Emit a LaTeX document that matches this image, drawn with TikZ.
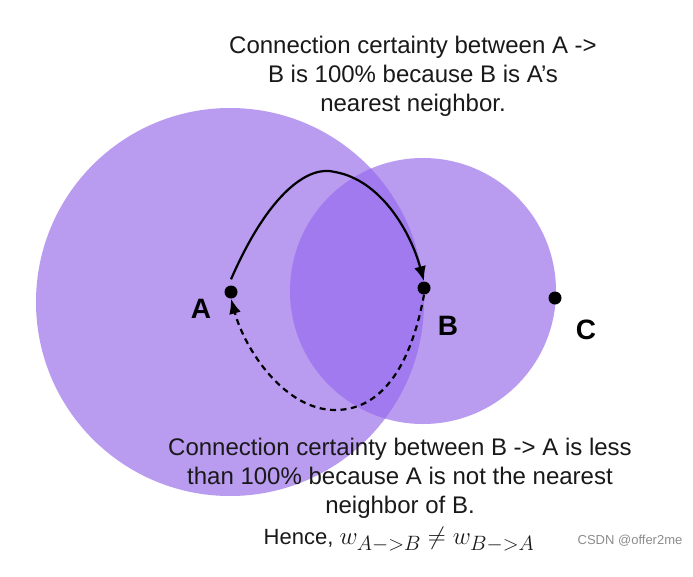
\documentclass[tikz,border=0pt]{standalone}
\usepackage{fontspec}
\setmainfont{Liberation Sans}
\usetikzlibrary{arrows.meta}
\definecolor{lightp}{RGB}{185,155,240}
\definecolor{darkp}{RGB}{160,122,238}
\definecolor{wm}{RGB}{140,140,140}
\tikzset{
  dot/.style={circle,fill=black,inner sep=0pt,minimum size=13pt},
  ptlabel/.style={font=\fontsize{28}{30}\selectfont\bfseries},
  caption/.style={align=center,font=\fontsize{24}{29}\selectfont,text=black!90},
  arr/.style={line width=2.2pt,-{Latex[length=15pt,width=12pt]}},
}
\begin{document}
\begin{tikzpicture}[x=1pt,y=-1pt]
\useasboundingbox (0,0) rectangle (693,576);
\fill[white] (0,0) rectangle (693,576);
% circles
\fill[lightp] (230,302) circle (194);
\fill[lightp] (423,291) circle (133);
\begin{scope}
  \clip (230,302) circle (194);
  \fill[darkp] (423,291) circle (133);
\end{scope}
% points
\node[dot] (A) at (231,292) {};
\node[dot] (B) at (424,288) {};
\node[dot] (C) at (555,298) {};
\node[ptlabel] (la) at (201,309) {A};
\node[ptlabel] (lb) at (448,326) {B};
\node[ptlabel] (lc) at (586,330) {C};
% arrows
\draw[arr] (A.north) ++(0,-6) .. controls (270,190) and (310,165) .. (335,172)
  .. controls (380,180) and (410,230) .. (B.north);
\draw[arr,dashed,dash pattern=on 6pt off 4.5pt] (B.south) .. controls (412,360) and (385,410) .. (335,410)
  .. controls (285,410) and (245,350) .. (A.south);
% texts
\node[caption] (t1) at (413,76) {Connection certainty between A ->\\B is 100\% because B is A's\\nearest neighbor.};
\node[caption] (t2) at (400,478) {Connection certainty between B -> A is less\\than 100\% because A is not the nearest\\neighbor of B.};
\node[font=\fontsize{22}{26}\selectfont,text=black!90,inner sep=0pt] (t3) at (399,540) {Hence, \fontsize{29}{32}\selectfont$w_{A->B} \neq w_{B->A}$};
\node[font=\fontsize{13}{15}\selectfont,text=wm] (w) at (630,541) {CSDN @offer2me};
\end{tikzpicture}
\end{document}
